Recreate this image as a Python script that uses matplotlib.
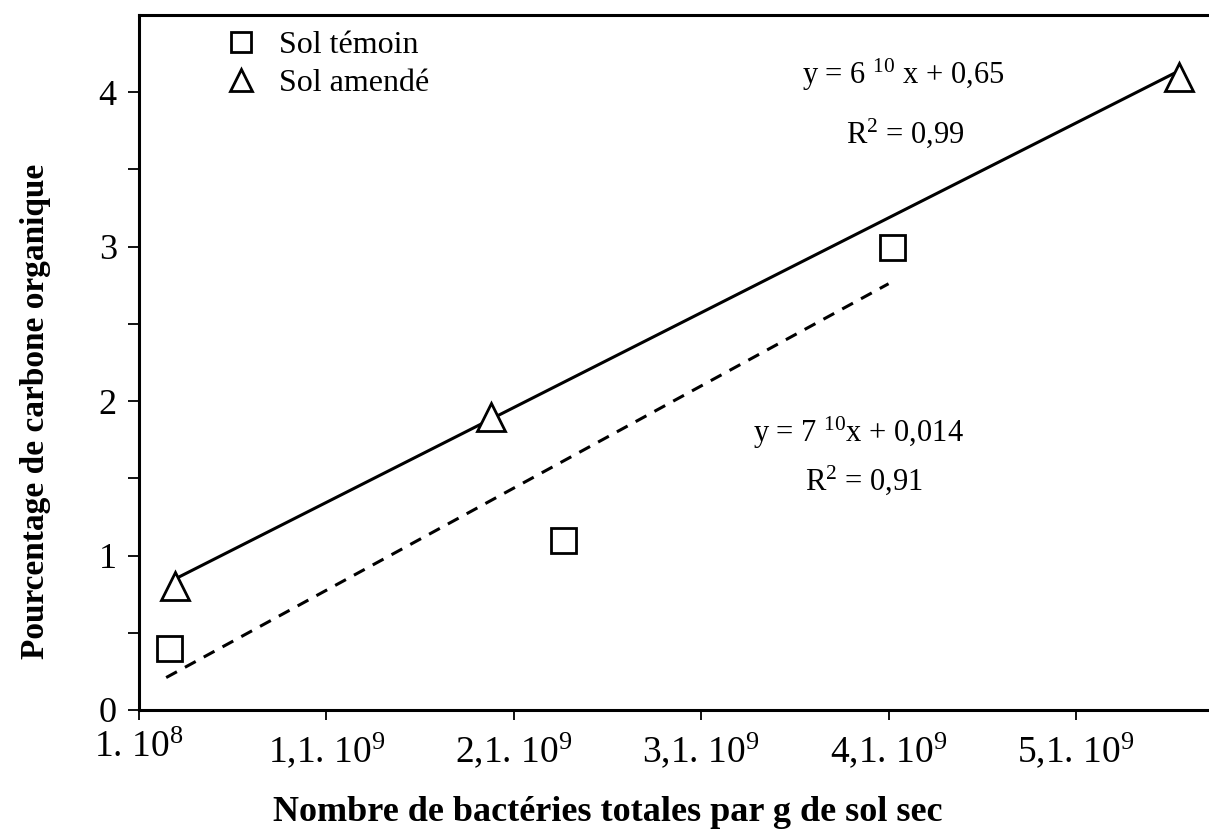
import numpy as np
import matplotlib
matplotlib.use("Agg")
import matplotlib.pyplot as plt

plt.rcParams['font.family'] = ['Liberation Serif', 'DejaVu Serif']
plt.rcParams['mathtext.fontset'] = 'custom'
plt.rcParams['mathtext.rm'] = 'Liberation Serif'
plt.rcParams['mathtext.it'] = 'Liberation Serif:italic'
plt.rcParams['mathtext.bf'] = 'Liberation Serif:bold'

# data
temoin_x = [2.6e8, 2.36e9, 4.12e9]
temoin_y = [0.4, 1.1, 3.0]
amende_x = [2.9e8, 1.98e9, 5.65e9]
amende_y = [0.8, 1.9, 4.1]

# trend lines (end points)
fit_amende_x = [2.95e8, 5.62e9]
fit_amende_y = [0.85, 4.12]
fit_temoin_x = [2.45e8, 4.1e9]
fit_temoin_y = [0.21, 2.76]

xticks = [1e8, 1.1e9, 2.1e9, 3.1e9, 4.1e9, 5.1e9]
xticklabels = ["1. 10$^{8}$", "1,1. 10$^{9}$", "2,1. 10$^{9}$",
               "3,1. 10$^{9}$", "4,1. 10$^{9}$", "5,1. 10$^{9}$"]
yticks = [0, 1, 2, 3, 4]

fig = plt.figure(figsize=(12.09, 8.32), dpi=100)
ax = fig.add_axes([139/1209, 122/832, 1070/1209, 695/832])

ax.plot(fit_amende_x, fit_amende_y, color='black', lw=2.2, zorder=2)
ax.plot(fit_temoin_x, fit_temoin_y, color='black', lw=2.2,
        linestyle=(0, (4, 3)), zorder=2)

sq, = ax.plot(temoin_x, temoin_y, linestyle='none', marker='s', ms=18,
              mfc='white', mec='black', mew=2.0, zorder=3, label='Sol témoin')
tr, = ax.plot(amende_x, amende_y, linestyle='none', marker='^', ms=20,
              mfc='white', mec='black', mew=2.0, zorder=3, label='Sol amendé')

ax.set_xlim(1e8, 5.81e9)
ax.set_ylim(0, 4.5)

ax.set_xticks(xticks)
ax.set_xticklabels(xticklabels)
ax.set_yticks(yticks)
ax.set_yticks(np.arange(0.5, 4.5, 1.0), minor=True)
ax.tick_params(axis='x', which='major', direction='out', length=7, width=1.3,
               labelsize=27, pad=8)
ax.tick_params(axis='y', which='both', direction='out', length=8, width=1.3,
               labelsize=26, pad=8)

for side in ['left', 'bottom', 'top']:
    ax.spines[side].set_linewidth(2.2)
ax.spines['right'].set_visible(False)

ax.set_xlabel("Nombre de bactéries totales par g de sol sec",
              fontsize=26, fontweight='bold')
ax.xaxis.set_label_coords(0.438, -0.124)
ax.set_ylabel("Pourcentage de carbone organique",
              fontsize=24, fontweight='bold')
ax.yaxis.set_label_coords(-0.082, 0.429)

ax.text(0.714, 0.914, "y = 6 $^{10}$ x + 0,65", transform=ax.transAxes,
        ha='center', va='center', fontsize=22)
ax.text(0.716, 0.830, "R$^{2}$ = 0,99", transform=ax.transAxes,
        ha='center', va='center', fontsize=22)
ax.text(0.672, 0.399, "y = 7 $^{10}$x + 0,014", transform=ax.transAxes,
        ha='center', va='center', fontsize=22)
ax.text(0.678, 0.331, "R$^{2}$ = 0,91", transform=ax.transAxes,
        ha='center', va='center', fontsize=22)

ax.legend(handles=[sq, tr], loc='upper left', bbox_to_anchor=(0.08, 0.977),
          frameon=False, fontsize=23, markerscale=0.8, handlelength=1.0,
          handletextpad=0.7, labelspacing=0.25, borderpad=0, borderaxespad=0)

fig.savefig("out.png", dpi=100)
